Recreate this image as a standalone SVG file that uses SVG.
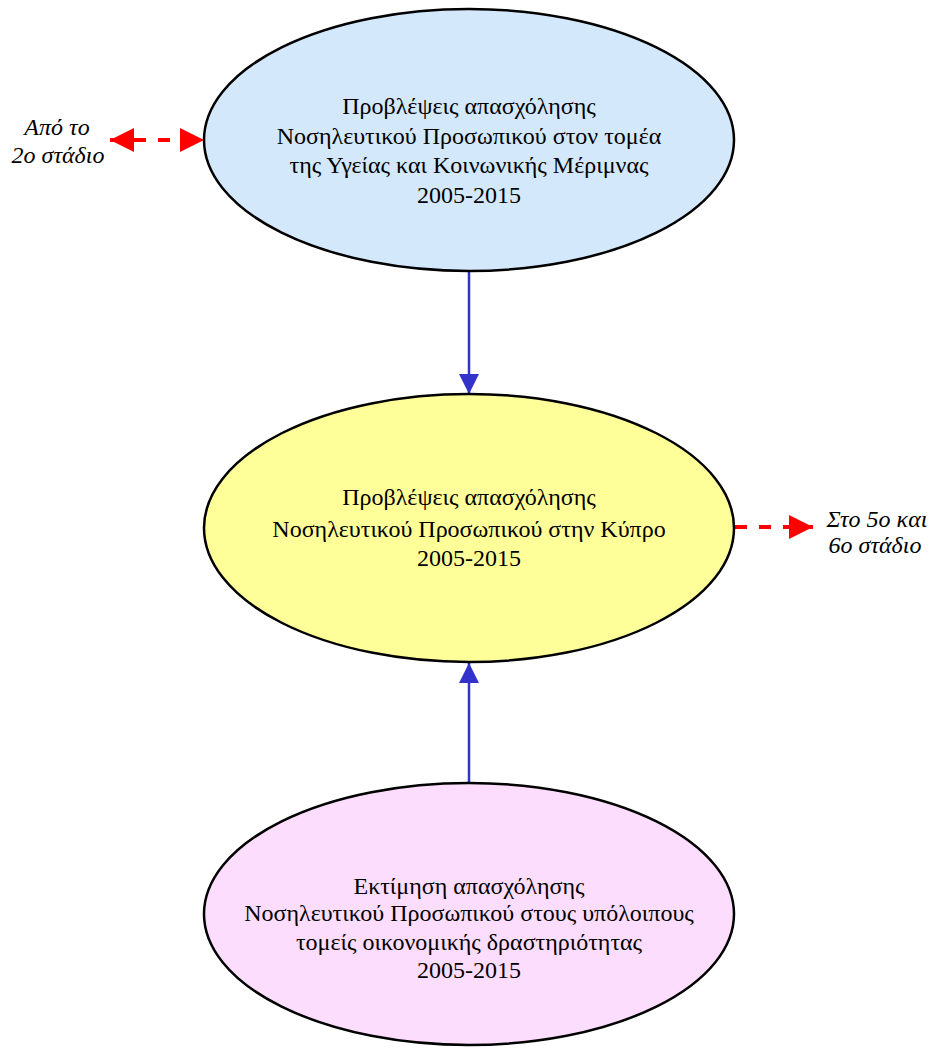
<svg xmlns="http://www.w3.org/2000/svg" width="933" height="1047" viewBox="0 0 933 1047">
<style>
.node{stroke:#000;stroke-width:2.5}
.t{font-family:"Liberation Serif","Times New Roman",serif;font-size:24px;fill:#000;text-anchor:middle}
.lbl{font-family:"Liberation Serif","Times New Roman",serif;font-size:24px;font-style:italic;fill:#000;text-anchor:middle}
.blue{stroke:#3333CC;stroke-width:2.5;fill:none}
.red{stroke:#FF0000;stroke-width:4;stroke-dasharray:12 12;fill:none}
</style>
<defs>
<marker id="bh" viewBox="0 0 20 20" refX="20" refY="10" markerWidth="20" markerHeight="20" markerUnits="userSpaceOnUse" orient="auto">
<path d="M0,0 L20,10 L0,20 Z" fill="#3333CC"/>
</marker>
<marker id="rh" viewBox="0 0 24 24" refX="24" refY="12" markerWidth="24" markerHeight="24" markerUnits="userSpaceOnUse" orient="auto-start-reverse">
<path d="M0,0 L24,12 L0,24 Z" fill="#FF0000"/>
</marker>
</defs>
<g id="connectors">
<line class="blue" x1="469" y1="271" x2="469" y2="394" marker-end="url(#bh)"/>
<line class="blue" x1="469" y1="783" x2="469" y2="663" marker-end="url(#bh)"/>
<line class="red" x1="110" y1="140" x2="204" y2="140" marker-start="url(#rh)" marker-end="url(#rh)"/>
<line class="red" x1="735" y1="527" x2="813" y2="527" marker-end="url(#rh)"/>
</g>
<g id="node1">
<ellipse class="node" cx="469" cy="140" rx="265" ry="131" fill="#D4E8FC"/>
<text class="t" x="469" y="114">Προβλέψεις απασχόλησης</text>
<text class="t" x="469" y="144">Νοσηλευτικού Προσωπικού στον τομέα</text>
<text class="t" x="469" y="173">της Υγείας και Κοινωνικής Μέριμνας</text>
<text class="t" x="469" y="203">2005-2015</text>
</g>
<g id="node2">
<ellipse class="node" cx="469" cy="528" rx="265" ry="134" fill="#FFFF99"/>
<text class="t" x="469" y="505">Προβλέψεις απασχόλησης</text>
<text class="t" x="469" y="537">Νοσηλευτικού Προσωπικού στην Κύπρο</text>
<text class="t" x="469" y="566">2005-2015</text>
</g>
<g id="node3">
<ellipse class="node" cx="469" cy="914" rx="265" ry="131" fill="#FDDDFD"/>
<text class="t" x="469" y="894">Εκτίμηση απασχόλησης</text>
<text class="t" x="469" y="921">Νοσηλευτικού Προσωπικού στους υπόλοιπους</text>
<text class="t" x="469" y="950">τομείς οικονομικής δραστηριότητας</text>
<text class="t" x="469" y="978">2005-2015</text>
</g>
<g id="label-from">
<text class="lbl" x="57" y="135">Από το</text>
<text class="lbl" x="58" y="163">2ο στάδιο</text>
</g>
<g id="label-to">
<text class="lbl" x="877" y="527">Στο 5ο και</text>
<text class="lbl" x="875" y="553">6ο στάδιο</text>
</g>
</svg>
